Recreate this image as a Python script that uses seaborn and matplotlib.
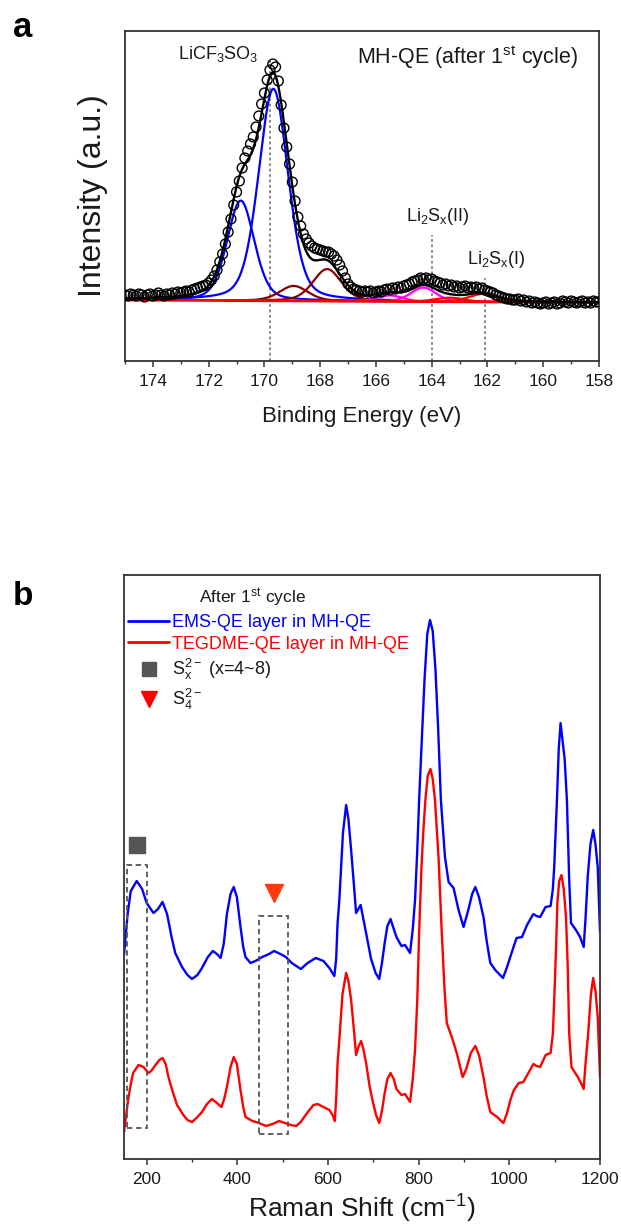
import numpy as np
import pandas as pd
import matplotlib
matplotlib.use("Agg")
import matplotlib.pyplot as plt
import seaborn as sns
from matplotlib.lines import Line2D
from matplotlib.patches import Rectangle
from matplotlib.ticker import MultipleLocator

# ---------------- (a) S 2p XPS, MH-QE after the 1st cycle ----------------
# measured spectrum, 0.1 eV steps from 175.0 eV down to 158.0 eV
XPS_START, XPS_STEP = 175.0, 0.1
XPS_COUNTS = [
    5, 4, 6, 5, 4, 6, 5, 3, 5, 6,            # 175.0 - 174.1
    4, 5, 7, 5, 4, 6, 5, 7, 6, 8,            # 174.0 - 173.1
    7, 8, 9, 8, 10, 11, 12, 13, 14, 15,      # 173.0 - 172.1
    17, 20, 24, 30, 38, 46, 56, 68, 81, 95,  # 172.0 - 171.1
    108, 119, 132, 142, 149, 156, 163, 173, 184, 196,  # 171.0 - 170.1
    207, 220, 230, 236, 233, 219, 195, 172, 153, 136,  # 170.0 - 169.1
    118, 99, 83, 74, 66, 61, 57, 54, 52, 51,  # 169.0 - 168.1
    50, 49, 48, 48, 46, 44, 40, 35, 29, 22,  # 168.0 - 167.1
    16, 13, 11, 10, 9, 8, 9, 8, 9, 7,        # 167.0 - 166.1
    8, 9, 8, 10, 11, 10, 12, 11, 13, 12,     # 166.0 - 165.1
    14, 15, 16, 18, 19, 20, 22, 21, 22, 20,  # 165.0 - 164.1
    21, 19, 18, 17, 15, 16, 14, 15, 13, 14,  # 164.0 - 163.1
    12, 13, 14, 12, 13, 12, 13, 11, 12, 10,  # 163.0 - 162.1
    9, 8, 7, 5, 4, 3, 2, 1, 1, 0,            # 162.0 - 161.1
    0, 1, -1, 0, -2, -1, -3, -2, -3, -4,     # 161.0 - 160.1
    -3, -2, -4, -3, -2, -4, -3, -1, -2, -3,  # 160.0 - 159.1
    -1, -2, -3, -2, -1, -3, -2, -3, -1, -2,  # 159.0 - 158.1
    -2,                                      # 158.0
]

# fitted doublet components: centre (eV), height, FWHM (eV), Lorentzian fraction
BLUE_CENTERS = [169.68, 170.85]
BLUE_HEIGHTS = [212, 100]
BLUE_FWHM = [1.25, 1.15]
BLUE_ETA = [0.3, 0.3]

DARKRED_CENTERS = [167.75, 168.95]
DARKRED_HEIGHTS = [32, 15]
DARKRED_FWHM = [1.2, 1.2]
DARKRED_ETA = [0.3, 0.3]

MAGENTA_CENTERS = [164.3, 165.5]
MAGENTA_HEIGHTS = [14, 6]
MAGENTA_FWHM = [1.05, 1.05]
MAGENTA_ETA = [0.2, 0.2]

RED_CENTERS = [162.15, 163.35]
RED_HEIGHTS = [8, 4]
RED_FWHM = [1.2, 1.2]
RED_ETA = [0.2, 0.2]

BACKGROUND_ENDS = [0.0, -2.5]          # linear background at 175 eV and 158 eV
PEAK_MARKS = [169.8, 164.0, 162.1]      # dotted guide lines
PEAK_MARK_TOPS = [240, 65, 22]

# ---------------- (b) Raman spectra after the 1st cycle ----------------
EMS_SHIFT = [150, 158, 165, 178, 190, 200, 215, 225, 235, 245, 255, 263, 278, 290, 300,
             312, 322, 335, 346, 355, 363, 370, 377, 385, 392, 399, 407, 413, 418, 429,
             440, 455, 470, 481, 495, 507, 520, 540, 555, 573, 590, 603, 614, 618, 621,
             625, 633, 640, 645, 651, 657, 662, 667, 672, 678, 684, 695, 705, 713, 719,
             725, 731, 738, 745, 751, 762, 770, 781, 787, 792, 797, 801, 807, 813, 819,
             825, 831, 837, 843, 849, 858, 866, 877, 888, 899, 910, 918, 925, 933, 943,
             950, 958, 969, 986, 995, 1002, 1010, 1016, 1028, 1039, 1053, 1060, 1068, 1080, 1091,
             1096, 1099, 1105, 1109, 1113, 1117, 1122, 1127, 1132, 1136, 1147, 1156, 1164, 1168, 1173,
             1179, 1185, 1190, 1195, 1200]
EMS_INT = [204, 245, 268, 278, 270, 256, 246, 250, 257, 245, 222, 206, 192, 184, 180,
           184, 191, 202, 208, 205, 201, 215, 245, 265, 272, 262, 232, 212, 202, 196,
           198, 202, 205, 208, 205, 202, 196, 190, 196, 201, 198, 191, 183, 200, 235,
           259, 326, 354, 340, 309, 275, 246, 250, 254, 240, 226, 200, 186, 180, 196,
           216, 233, 240, 230, 222, 213, 214, 206, 230, 259, 310, 359, 420, 480, 525,
           539, 528, 490, 430, 359, 302, 277, 271, 249, 232, 250, 265, 272, 262, 242,
           218, 196, 189, 181, 192, 202, 213, 221, 222, 234, 245, 243, 242, 252, 253,
           270, 292, 359, 410, 436, 420, 400, 359, 280, 236, 229, 222, 212, 240, 283,
           315, 329, 315, 292, 227]

TEGDME_SHIFT = [150, 155, 159, 165, 170, 182, 193, 204, 210, 218, 228, 235, 242, 248, 257,
                267, 281, 290, 300, 310, 322, 333, 344, 355, 365, 371, 377, 385, 392, 399,
                407, 413, 418, 433, 448, 463, 478, 492, 505, 518, 530, 540, 549, 559, 568,
                577, 590, 603, 610, 615, 618, 621, 625, 632, 640, 645, 651, 657, 662, 667,
                673, 678, 684, 692, 699, 706, 713, 719, 725, 731, 738, 745, 751, 762, 770,
                781, 787, 792, 797, 801, 806, 810, 815, 820, 826, 831, 836, 844, 851, 857,
                862, 873, 884, 897, 905, 915, 925, 933, 943, 950, 958, 973, 987, 995, 1003,
                1010, 1021, 1031, 1042, 1053, 1060, 1068, 1080, 1091, 1096, 1099, 1103, 1106, 1110, 1115,
                1120, 1125, 1129, 1132, 1137, 1151, 1158, 1164, 1168, 1174, 1180, 1185, 1190, 1195, 1200]
TEGDME_INT = [27, 45, 59, 75, 86, 94, 92, 86, 88, 93, 99, 101, 95, 82, 68,
              54, 44, 39, 37, 41, 47, 55, 60, 56, 52, 60, 72, 92, 102, 95,
              69, 52, 42, 38, 36, 33, 35, 38, 36, 34, 33, 37, 43, 49, 54,
              55, 52, 49, 44, 38, 60, 95, 119, 165, 186, 178, 159, 130, 104, 112,
              118, 110, 96, 72, 57, 44, 36, 48, 66, 80, 86, 80, 70, 64, 65,
              57, 80, 109, 160, 226, 290, 326, 360, 383, 390, 380, 359, 300, 226, 170,
              136, 122, 106, 82, 90, 106, 113, 104, 82, 63, 47, 42, 36, 46, 60,
              69, 76, 77, 86, 95, 93, 92, 104, 106, 125, 159, 210, 256, 278, 284,
              270, 242, 190, 126, 92, 82, 76, 70, 95, 126, 165, 181, 168, 142, 82]

SX_REGION = [157, 201, 31, 294]      # shift range and intensity range of the S_x^2- box
S4_REGION = [448, 512, 25, 243]      # shift range and intensity range of the S_4^2- box
SX_MARK_Y = 314
S4_MARK_Y = 266

# ---------------- style ----------------
sns.set_theme(style="ticks")
plt.rcParams["font.family"] = ["Liberation Sans", "DejaVu Sans"]
plt.rcParams["mathtext.fontset"] = "custom"
plt.rcParams["mathtext.rm"] = "Liberation Sans"
plt.rcParams["mathtext.it"] = "Liberation Sans:italic"
plt.rcParams["mathtext.bf"] = "Liberation Sans:bold"

SPINE = "#333333"
TXT = "#1a1a1a"


def pseudo_voigt(x, c, h, w, eta):
    d = (x - c) / w
    lor = 1.0 / (1.0 + 4.0 * d ** 2)
    gau = np.exp(-4.0 * np.log(2.0) * d ** 2)
    return h * (eta * lor + (1.0 - eta) * gau)


def style_axes(ax):
    for s in ax.spines.values():
        s.set_visible(True)
        s.set_linewidth(1.3)
        s.set_color(SPINE)
    ax.set_yticks([])
    ax.tick_params(axis="x", which="major", direction="out", length=4.5, width=1.1,
                   color=SPINE, labelcolor=TXT, labelsize=12.5, pad=5)
    ax.tick_params(axis="x", which="minor", direction="out", length=2.5, width=1.0, color=SPINE)


fig = plt.figure(figsize=(6.21, 12.24), dpi=100)
W, H = 621.0, 1224.0
ax_a = fig.add_axes([125 / W, 1 - 361 / H, (599 - 125) / W, (361 - 31) / H])
ax_b = fig.add_axes([124 / W, 1 - 1159 / H, 476 / W, 584 / H])

# ---------------- panel (a) ----------------
e_grid = np.linspace(175.0, 158.0, 1361)
bg = np.interp(e_grid, [158.0, 175.0], BACKGROUND_ENDS[::-1])

groups = [
    ("#0000ff", BLUE_CENTERS, BLUE_HEIGHTS, BLUE_FWHM, BLUE_ETA, (165.3, 175.0)),
    ("#8b0000", DARKRED_CENTERS, DARKRED_HEIGHTS, DARKRED_FWHM, DARKRED_ETA, (165.6, 171.4)),
    ("#ff00ff", MAGENTA_CENTERS, MAGENTA_HEIGHTS, MAGENTA_FWHM, MAGENTA_ETA, (161.6, 167.3)),
    ("#ff0000", RED_CENTERS, RED_HEIGHTS, RED_FWHM, RED_ETA, (160.2, 165.3)),
]

envelope = bg.copy()
for color, cs, hs, ws, etas, (lo, hi) in groups:
    for c, h, w, eta in zip(cs, hs, ws, etas):
        comp = pseudo_voigt(e_grid, c, h, w, eta)
        envelope += comp
        m = (e_grid >= lo) & (e_grid <= hi)
        df = pd.DataFrame({"E": e_grid[m], "I": (bg + comp)[m]})
        sns.lineplot(data=df, x="E", y="I", ax=ax_a, color=color, lw=1.6,
                     estimator=None, sort=False, legend=False)

sns.lineplot(data=pd.DataFrame({"E": e_grid, "I": bg}), x="E", y="I", ax=ax_a,
             color="#ff0000", lw=2.0, estimator=None, sort=False, legend=False)

xps_e = XPS_START - XPS_STEP * np.arange(len(XPS_COUNTS))
sns.scatterplot(x=xps_e, y=np.array(XPS_COUNTS, float), ax=ax_a, marker="o", s=50,
                facecolor="none", edgecolor="black", linewidth=1.0, zorder=4)
sns.lineplot(data=pd.DataFrame({"E": e_grid, "I": envelope}), x="E", y="I", ax=ax_a,
             color="black", lw=1.7, estimator=None, sort=False, legend=False, zorder=5)

for xm, top in zip(PEAK_MARKS, PEAK_MARK_TOPS):
    ax_a.vlines(xm, -61, top, colors="#7f7f7f", linestyles=(0, (1.5, 1.5)), lw=1.3, zorder=1)

ax_a.text(171.66, 246, r"LiCF$_\mathrm{3}$SO$_\mathrm{3}$", ha="center", va="center",
          fontsize=13, color=TXT)
ax_a.text(162.7, 243, r"MH-QE (after 1$^\mathrm{st}$ cycle)", ha="center", va="center",
          fontsize=15.5, color=TXT)
ax_a.text(163.8, 84, r"Li$_\mathrm{2}$S$_\mathrm{x}$(II)", ha="center", va="center",
          fontsize=13, color=TXT)
ax_a.text(161.7, 41, r"Li$_\mathrm{2}$S$_\mathrm{x}$(I)", ha="center", va="center",
          fontsize=13, color=TXT)

ax_a.set_xlim(175, 158)
ax_a.set_ylim(-61, 269)
ax_a.xaxis.set_major_locator(MultipleLocator(2))
ax_a.xaxis.set_minor_locator(MultipleLocator(1))
style_axes(ax_a)
ax_a.set_xlabel("Binding Energy (eV)", fontsize=16, color=TXT, labelpad=12)
ax_a.set_ylabel("Intensity (a.u.)", fontsize=23, color=TXT, labelpad=12)

# ---------------- panel (b) ----------------
sns.lineplot(x=EMS_SHIFT, y=EMS_INT, ax=ax_b, color="#0000ff", lw=1.7,
             estimator=None, sort=False, legend=False)
sns.lineplot(x=TEGDME_SHIFT, y=TEGDME_INT, ax=ax_b, color="#ff0000", lw=1.7,
             estimator=None, sort=False, legend=False)

for x0, x1, y0, y1 in (SX_REGION, S4_REGION):
    ax_b.add_patch(Rectangle((x0, y0), x1 - x0, y1 - y0, fill=False, ec="#555555",
                             lw=1.3, ls=(0, (3, 2)), zorder=3))

ax_b.plot([(SX_REGION[0] + SX_REGION[1]) / 2], [SX_MARK_Y], marker="s", ms=11.5,
          color="#555555", ls="none")
ax_b.plot([(S4_REGION[0] + S4_REGION[1]) / 2], [S4_MARK_Y], marker="v", ms=13,
          color="#ff3a10", ls="none")

ax_b.text(0.158, 0.961, r"After 1$^\mathrm{st}$ cycle", transform=ax_b.transAxes,
          ha="left", va="center", fontsize=12.5, color=TXT)

handles = [
    Line2D([], [], color="#0000ff", lw=2.0),
    Line2D([], [], color="#ff0000", lw=2.0),
    Line2D([], [], ls="none", marker="s", ms=10, color="#555555"),
    Line2D([], [], ls="none", marker="v", ms=11, color="#ff0000"),
]
labels = ["EMS-QE layer in MH-QE", "TEGDME-QE layer in MH-QE",
          r"S$_\mathrm{x}^\mathrm{2-}$ (x=4~8)", r"S$_\mathrm{4}^\mathrm{2-}$"]
leg = ax_b.legend(handles, labels, loc="upper left", bbox_to_anchor=(0.008, 0.933),
                  frameon=False, fontsize=13, handlelength=2.3, handletextpad=0.15,
                  labelspacing=0.25, borderaxespad=0, borderpad=0)
leg.get_texts()[0].set_color("#0000ff")
leg.get_texts()[1].set_color("#ff0000")
for t in leg.get_texts()[2:]:
    t.set_color(TXT)

ax_b.set_xlim(150, 1200)
ax_b.set_ylim(0, 584)
ax_b.xaxis.set_major_locator(MultipleLocator(200))
ax_b.xaxis.set_minor_locator(MultipleLocator(100))
style_axes(ax_b)
ax_b.set_xlabel(r"Raman Shift (cm$^\mathrm{-1}$)", fontsize=19, color=TXT, labelpad=4)
ax_b.set_ylabel("")

fig.text(13 / W, 1 - 37 / H, "a", fontsize=25, fontweight="bold", color="black", va="baseline")
fig.text(13 / W, 1 - 605 / H, "b", fontsize=24, fontweight="bold", color="black", va="baseline")

fig.savefig("out.png", dpi=100)
